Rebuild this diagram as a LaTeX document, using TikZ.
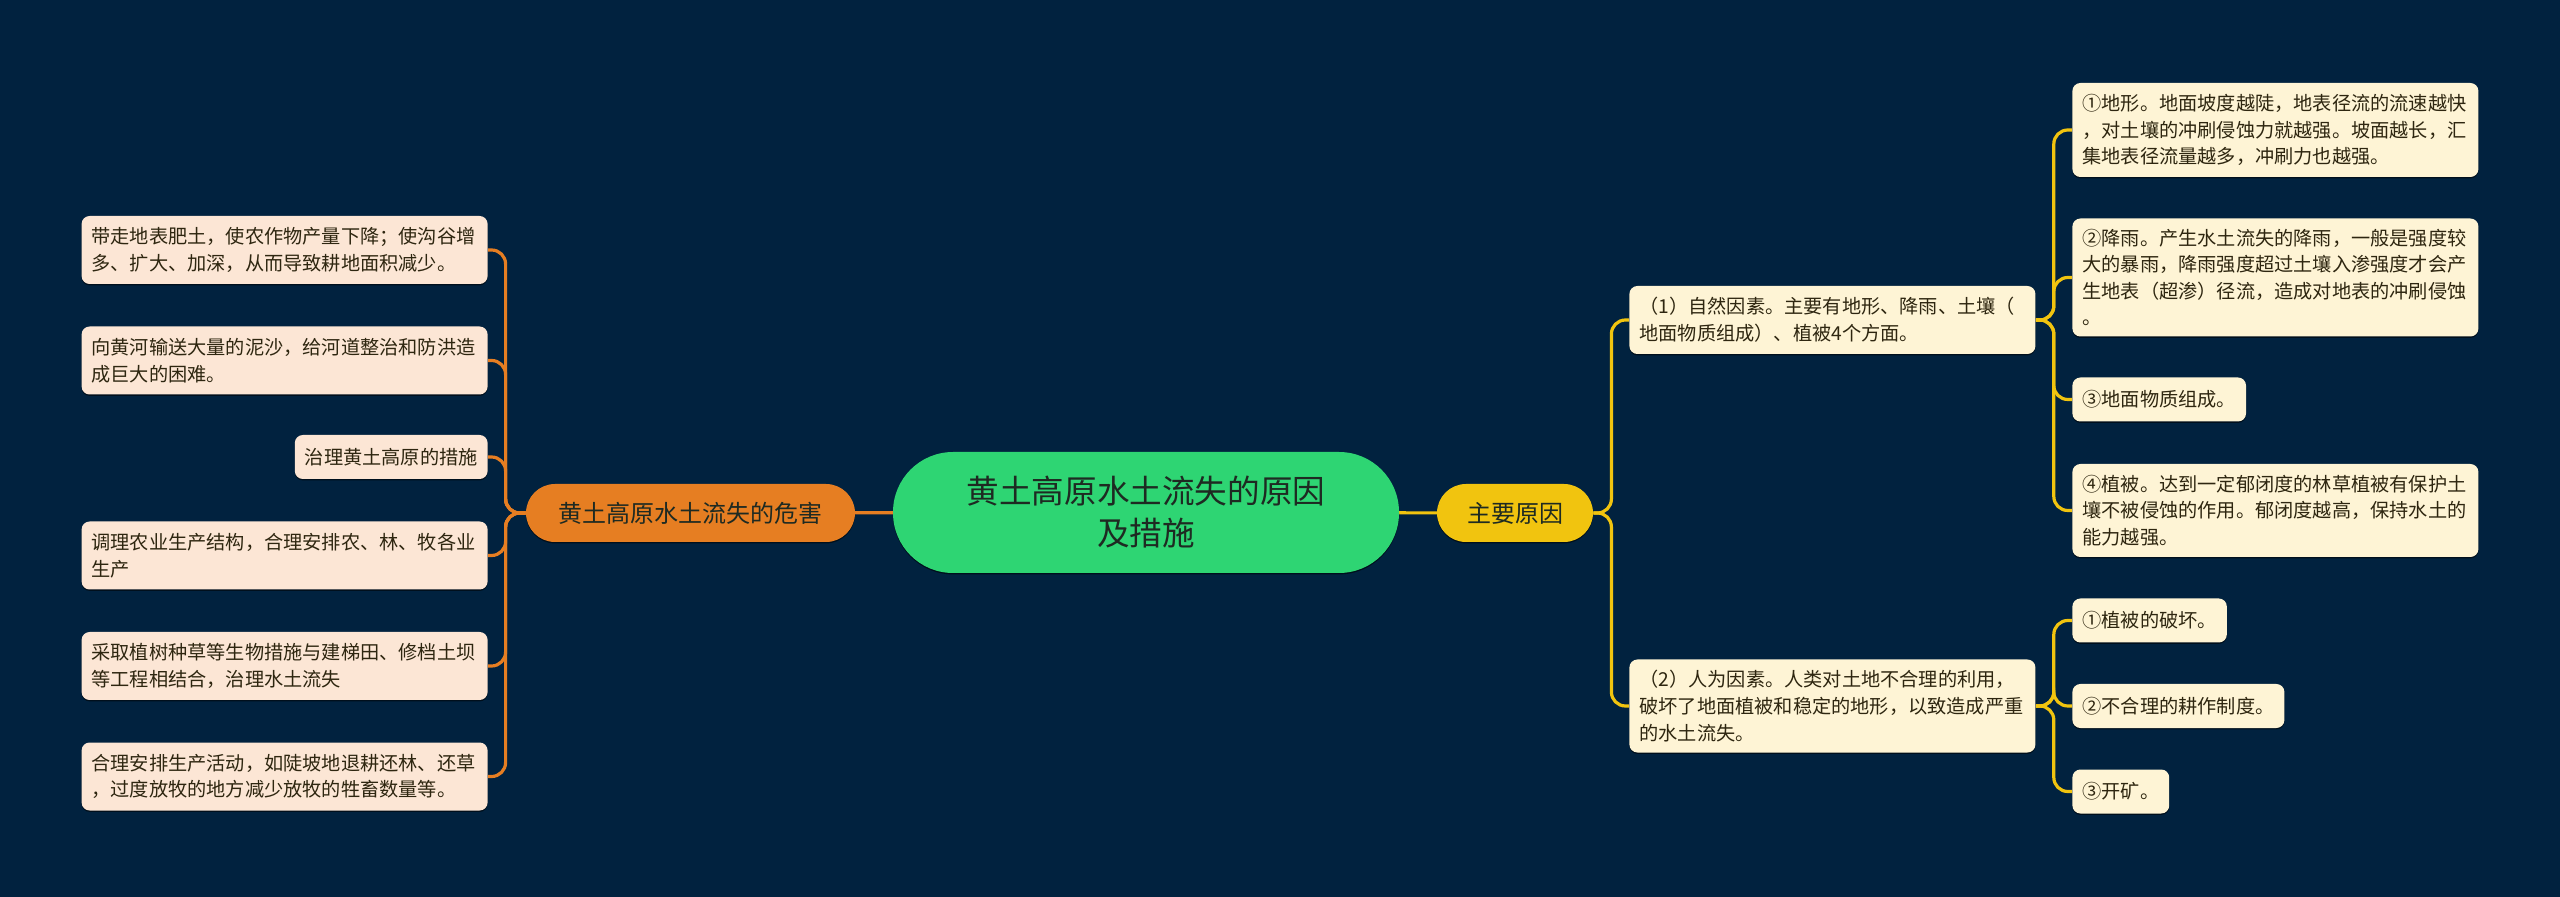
\documentclass[tikz,border=0pt]{standalone}
\usepackage{fontspec}
\setmainfont{Noto Sans CJK SC}
\usetikzlibrary{backgrounds,shadows}
\definecolor{bgc}{HTML}{01223F}
\definecolor{rootc}{HTML}{2ED573}
\definecolor{orangec}{HTML}{E67E22}
\definecolor{yellowc}{HTML}{F1C40F}
\definecolor{leafyc}{HTML}{FEF4D5}
\definecolor{leafoc}{HTML}{FCE6D5}
\definecolor{txtc}{HTML}{2E2610}
\definecolor{maintxt}{HTML}{1E2A22}
\newcommand\leaffont{\fontsize{9.6pt}{13.3pt}\selectfont}
\tikzset{
  softshadow/.style={drop shadow={shadow xshift=0pt,shadow yshift=-0.7pt,opacity=0.55,fill=black}},
  rootnode/.style={fill=rootc, text=maintxt, rounded corners=30pt, minimum width=253pt, minimum height=60.5pt,
    font=\fontsize{16.3pt}{21pt}\selectfont, align=center, inner sep=0pt, softshadow},
  mainnode/.style={text=maintxt, rounded corners=14.5pt, minimum height=29pt,
    font=\fontsize{12pt}{14pt}\selectfont, inner sep=0pt, softshadow},
  leafbase/.style={text=txtc, rounded corners=4pt, inner xsep=5pt, inner ysep=2pt, font=\leaffont, align=left, softshadow},
  leafL/.style={leafbase, fill=leafoc},
  leafR/.style={leafbase, fill=leafyc},
  widebox/.style={text width=193pt},
  oline/.style={draw=orangec, line width=1.6pt},
  yline/.style={draw=yellowc, line width=1.6pt},
}
\begin{document}
\begin{tikzpicture}[x=0.5pt,y=-0.5pt]
\useasboundingbox (0,0) rectangle (2560,897);

% main nodes
\node[rootnode] (root) at (1146,512.5) {黄土高原水土流失的原因\\及措施};
\node[mainnode, fill=orangec, minimum width=164.5pt] (harm) at (690.5,513) {黄土高原水土流失的危害};
\node[mainnode, fill=yellowc, minimum width=78pt] (cause) at (1515,513) {主要原因};

% left leaves
\node[leafL, widebox, minimum height=34pt, anchor=east] (l1) at (488,250) {带走地表肥土，使农作物产量下降；使沟谷增\\多、扩大、加深，从而导致耕地面积减少。};
\node[leafL, widebox, minimum height=34pt, anchor=east] (l2) at (488,360.5) {向黄河输送大量的泥沙，给河道整治和防洪造\\成巨大的困难。};
\node[leafL, minimum height=22pt, anchor=east] (l3) at (488,457) {治理黄土高原的措施};
\node[leafL, widebox, minimum height=34pt, anchor=east] (l4) at (488,555.5) {调理农业生产结构，合理安排农、林、牧各业\\生产};
\node[leafL, widebox, minimum height=34pt, anchor=east] (l5) at (488,666) {采取植树种草等生物措施与建梯田、修档土坝\\等工程相结合，治理水土流失};
\node[leafL, widebox, minimum height=34pt, anchor=east] (l6) at (488,776.5) {合理安排生产活动，如陡坡地退耕还林、还草\\，过度放牧的地方减少放牧的牲畜数量等。};

% right second level
\node[leafR, widebox, minimum height=34pt, anchor=west] (r1) at (1629,320) {（1）自然因素。主要有地形、降雨、土壤（\\地面物质组成）、植被4个方面。};
\node[leafR, widebox, minimum height=46.5pt, anchor=west] (r2) at (1629,706) {（2）人为因素。人类对土地不合理的利用，\\破坏了地面植被和稳定的地形，以致造成严重\\的水土流失。};

% right leaves of (1)
\node[leafR, widebox, minimum height=47pt, anchor=west] (a1) at (2072,130) {①地形。地面坡度越陡，地表径流的流速越快\\，对土壤的冲刷侵蚀力就越强。坡面越长，汇\\集地表径流量越多，冲刷力也越强。};
\node[leafR, widebox, minimum height=59pt, anchor=west] (a2) at (2072,277.5) {②降雨。产生水土流失的降雨，一般是强度较\\大的暴雨，降雨强度超过土壤入渗强度才会产\\生地表（超渗）径流，造成对地表的冲刷侵蚀\\。};
\node[leafR, minimum height=22pt, anchor=west] (a3) at (2072,399.5) {③地面物质组成。};
\node[leafR, widebox, minimum height=46.5pt, anchor=west] (a4) at (2072,510.5) {④植被。达到一定郁闭度的林草植被有保护土\\壤不被侵蚀的作用。郁闭度越高，保持水土的\\能力越强。};

% right leaves of (2)
\node[leafR, minimum height=22pt, anchor=west] (b1) at (2072,620.5) {①植被的破坏。};
\node[leafR, minimum height=22pt, anchor=west] (b2) at (2072,706) {②不合理的耕作制度。};
\node[leafR, minimum height=22pt, anchor=west] (b3) at (2072,791.5) {③开矿。};

\begin{scope}[on background layer]
  \fill[bgc] (0,0) rectangle (2560,897);
  \draw[oline] (root.center) -- (harm.center);
  \draw[yline] (root.center) -- (cause.center);
  \foreach \n in {l1,l2,l3,l4,l5,l6}
    \draw[oline, rounded corners=7pt] (harm.west) -- ++(-20,0) |- (\n.east);
  \foreach \n in {r1,r2}
    \draw[yline, rounded corners=7pt] (cause.east) -- ++(18,0) |- (\n.west);
  \foreach \n in {a1,a2,a3,a4}
    \draw[yline, rounded corners=7pt] (r1.east) -- ++(18,0) |- (\n.west);
  \foreach \n in {b1,b2,b3}
    \draw[yline, rounded corners=7pt] (r2.east) -- ++(18,0) |- (\n.west);
\end{scope}
\end{tikzpicture}
\end{document}
